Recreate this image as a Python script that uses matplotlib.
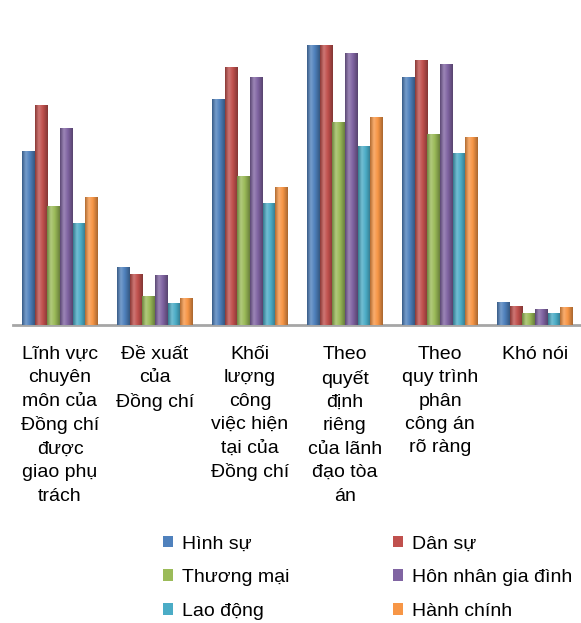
import matplotlib.pyplot as plt
import numpy as np
from matplotlib.colors import to_rgb

# nhãn nhóm (trục x)
categories = [
    "Lĩnh vực\nchuyên\nmôn của\nĐồng chí\nđược\ngiao phụ\ntrách",
    "Đề xuất\ncủa\nĐồng chí",
    "Khối\nlượng\ncông\nviệc hiện\ntại của\nĐồng chí",
    "Theo\nquyết\nđịnh\nriêng\ncủa lãnh\nđạo tòa\nán",
    "Theo\nquy trình\nphân\ncông án\nrõ ràng",
    "Khó nói",
]

series_names = ["Hình sự", "Dân sự", "Thương mại", "Hôn nhân gia đình", "Lao động", "Hành chính"]

hinh_su = [43.5, 14.5, 56.5, 70.0, 62.0, 5.75]
dan_su = [55.0, 12.75, 64.5, 70.0, 66.25, 4.75]
thuong_mai = [29.75, 7.25, 37.25, 50.75, 47.75, 3.0]
hon_nhan = [49.25, 12.5, 62.0, 68.0, 65.25, 4.0]
lao_dong = [25.5, 5.5, 30.5, 44.75, 43.0, 3.0]
hanh_chinh = [32.0, 6.75, 34.5, 52.0, 47.0, 4.5]

colors = ["#4F81BD", "#C0504D", "#9BBB59", "#8064A2", "#4BACC6", "#F79646"]


def gradient_img(color):
    # bóng kiểu trụ như Excel: mép tối, sáng ở khoảng 30%
    base = np.array(to_rgb(color))
    dark = base * 0.72
    light = base + (1 - base) * 0.22
    xs = np.linspace(0, 1, 40)
    stops = [0.0, 0.3, 0.6, 1.0]
    cols = [dark, light, base, dark * 0.95]
    img = np.zeros((1, len(xs), 3))
    for k in range(3):
        img[0, :, k] = np.interp(xs, stops, [c[k] for c in cols])
    return img


def main():
    plt.rcParams['font.family'] = ['Liberation Sans', 'DejaVu Sans']
    fig = plt.figure(figsize=(5.81, 6.23), dpi=100)
    ax = fig.add_axes([12.5 / 581, 298 / 623, 570 / 581, 280 / 623])

    data = [hinh_su, dan_su, thuong_mai, hon_nhan, lao_dong, hanh_chinh]
    x = np.arange(len(categories))
    n = len(data)
    w = 0.8 / n
    handles = []
    for i, vals in enumerate(data):
        bars = ax.bar(x - 0.4 + w * (i + 0.5), vals, w, color=colors[i],
                      label=series_names[i], zorder=2)
        handles.append(bars)
        img = gradient_img(colors[i])
        for p in bars.patches:
            x0, y0 = p.get_x(), p.get_y()
            im = ax.imshow(img, extent=[x0, x0 + p.get_width(), y0, y0 + p.get_height()],
                           aspect='auto', zorder=3, interpolation='bilinear')
            im.set_clip_path(p)

    ax.set_xlim(-0.5, 5.5)
    ax.set_ylim(0, 70)
    for s in ['top', 'right', 'left']:
        ax.spines[s].set_visible(False)
    ax.spines['bottom'].set_color('#A6A6A6')
    ax.spines['bottom'].set_linewidth(2)
    ax.set_yticks([])
    ax.set_xticks(x)
    ax.set_xticklabels(categories, fontsize=14, linespacing=1.49)
    ax.tick_params(axis='x', length=0, pad=15)

    # chú thích theo hàng: thứ tự cột 1 rồi cột 2
    order = [0, 2, 4, 1, 3, 5]
    fig.legend([handles[i] for i in order], [series_names[i] for i in order],
               loc='upper left', bbox_to_anchor=(145 / 581, 1 - 518 / 623),
               ncol=2, frameon=False, fontsize=14, handlelength=0.55,
               handleheight=0.55, handletextpad=0.45, labelspacing=0.85,
               columnspacing=5.3)

    fig.savefig('out.png', dpi=100)


if __name__ == '__main__':
    main()
